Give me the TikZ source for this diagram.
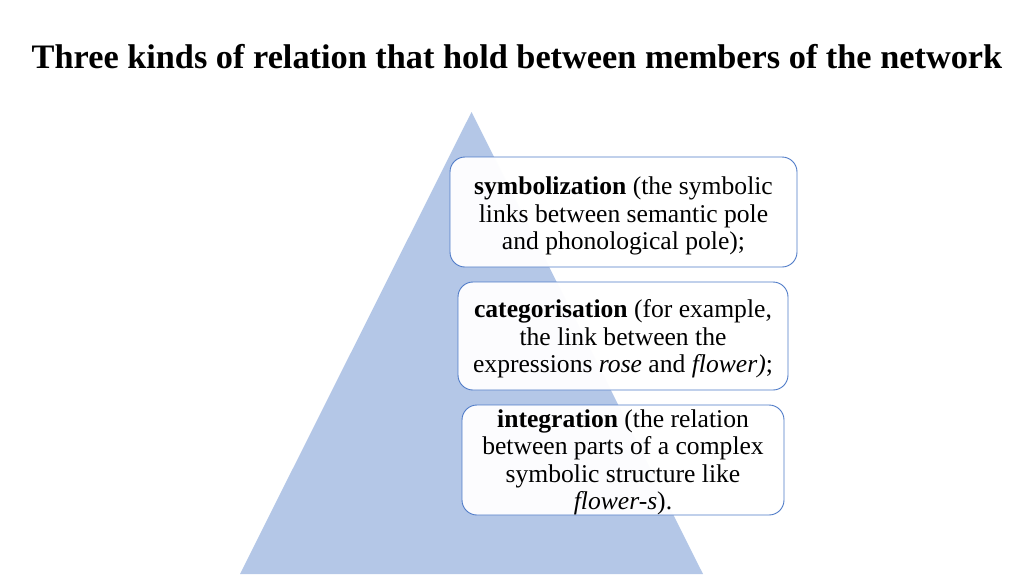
\documentclass[tikz,border=0pt]{standalone}
\usepackage{fontspec}
\setmainfont{Liberation Serif}
\definecolor{tri}{HTML}{B4C7E7}
\definecolor{edge}{HTML}{4F7BC8}
\tikzset{
  relbox/.style={draw=edge, line width=0.9pt, fill=white, fill opacity=0.96,
    rounded corners=15pt, inner sep=0pt},
  reltext/.style={align=center, inner sep=0pt, font=\fontsize{25.6}{27.5}\selectfont},
  titletext/.style={font=\fontsize{34.3}{38}\selectfont\bfseries}
}
\begin{document}
\begin{tikzpicture}[x=1pt,y=-1pt]
\useasboundingbox (0,0) rectangle (1024,574);
\fill[white] (0,0) rectangle (1024,574);
\node[titletext] (title) at (517,57) {Three kinds of relation that hold between members of the network};
\coordinate (apex) at (471.5,112);
\coordinate (bl) at (240,574);
\coordinate (br) at (703,574);
\fill[tri] (apex) -- (br) -- (bl) -- cycle;
\node[relbox, minimum width=347pt, minimum height=110pt] (sym) at (623.5,212) {};
\node[reltext] (symtext) at ([yshift=-4pt]sym.center)
  {\textbf{symbolization} (the symbolic\\links between semantic pole\\and phonological pole);};
\node[relbox, minimum width=330pt, minimum height=108pt] (cat) at (623,336) {};
\node[reltext] (cattext) at ([yshift=-3pt]cat.center)
  {\textbf{categorisation} (for example,\\the link between the\\expressions \textit{rose} and \textit{flower)};};
\node[relbox, minimum width=322pt, minimum height=110pt] (int) at (623,460) {};
\node[reltext] (inttext) at ([yshift=-2.5pt]int.center)
  {\textbf{integration} (the relation\\between parts of a complex\\symbolic structure like\\\textit{flower-s}).};
\end{tikzpicture}
\end{document}
